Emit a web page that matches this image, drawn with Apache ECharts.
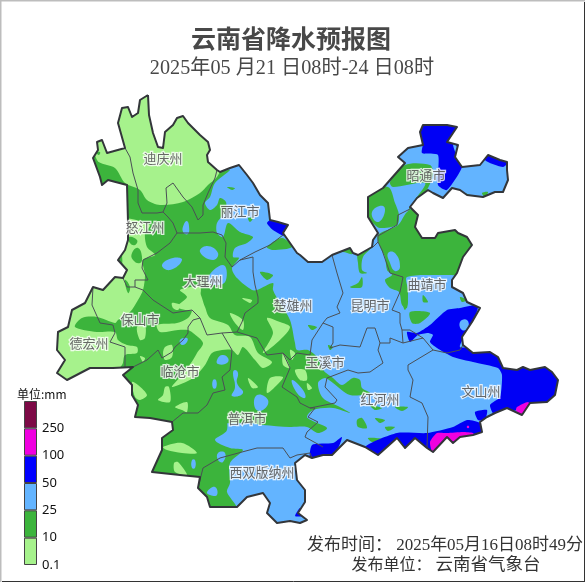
<!DOCTYPE html>
<html><head><meta charset="utf-8">
<style>html,body{margin:0;padding:0;background:#fff}#c{width:585px;height:582px}</style>
<script src="https://cdn.jsdelivr.net/npm/echarts@6/dist/echarts.min.js"></script>
</head><body><div id="c"></div>
<script>
// Map units are the reference picture's own x/y read-off; fed through hidden value axes.
const outerBorder=[[148,95],[149,115],[153,133],[158,147],[163,148],[165,132],[173,125],[177,118],[183,116],[188,123],[200,135],[208,142],[210,150],[207,155],[208,162],[217,170],[220,172],[230,168],[239,165],[247,175],[253,183],[260,195],[268,203],[270,220],[278,222],[288,225],[283,233],[290,243],[297,253],[300,255],[308,262],[322,262],[332,255],[350,248],[353,253],[358,255],[372,247],[373,240],[378,233],[368,217],[368,197],[383,188],[390,180],[405,163],[398,157],[408,148],[423,145],[420,132],[423,125],[447,125],[457,127],[447,142],[458,145],[455,157],[462,167],[480,165],[488,155],[500,160],[507,162],[507,170],[508,180],[503,192],[495,192],[483,197],[467,195],[460,190],[452,188],[443,198],[433,193],[428,190],[417,198],[410,207],[418,215],[415,227],[422,238],[435,238],[438,233],[455,230],[458,233],[467,237],[472,245],[463,257],[457,273],[452,280],[452,287],[463,293],[467,302],[480,308],[472,322],[462,337],[463,345],[473,353],[490,352],[498,357],[503,368],[517,370],[523,367],[530,370],[545,367],[552,372],[558,380],[555,395],[547,402],[530,403],[522,415],[507,408],[495,413],[487,417],[480,422],[482,432],[473,435],[460,437],[453,443],[447,437],[433,452],[427,448],[415,438],[405,448],[397,438],[378,455],[365,447],[347,440],[332,455],[323,455],[312,458],[305,455],[295,463],[297,480],[305,490],[305,502],[298,513],[307,520],[300,523],[290,521],[277,523],[267,513],[270,503],[263,493],[247,497],[237,507],[210,507],[207,497],[198,488],[200,477],[180,475],[152,472],[162,450],[162,438],[173,430],[172,422],[150,418],[135,417],[138,405],[132,395],[132,385],[123,375],[133,367],[113,368],[90,368],[67,380],[57,373],[65,360],[57,350],[58,332],[68,327],[72,310],[85,303],[93,287],[103,290],[115,277],[123,278],[127,270],[118,260],[125,250],[128,240],[128,222],[127,185],[108,180],[102,185],[100,177],[93,158],[98,150],[97,142],[102,140],[107,153],[125,148],[118,123],[122,108],[128,107],[132,117],[138,113],[140,100]];

const greenRings=[
 [[90,100],[225,100],[225,170],[230,170],[215,183],[210,197],[205,203],[210,210],[217,205],[220,198],[226,202],[225,212],[217,223],[217,233],[223,237],[228,223],[240,232],[253,237],[247,243],[235,248],[233,257],[239,258],[232,268],[237,278],[252,290],[257,290],[273,283],[273,290],[280,303],[290,320],[295,343],[297,350],[308,350],[317,357],[323,370],[333,378],[342,385],[353,378],[360,380],[362,388],[370,393],[350,395],[333,383],[325,378],[318,383],[323,398],[340,407],[350,413],[333,408],[313,410],[307,417],[315,422],[327,428],[318,433],[307,427],[290,427],[263,425],[250,423],[227,423],[217,418],[213,412],[223,408],[227,430],[215,440],[230,448],[243,450],[230,463],[230,483],[227,492],[237,508],[237,530],[100,530],[30,400],[40,300]],
 [[390,182],[405,165],[430,165],[433,173],[428,188],[418,200],[410,207],[408,212],[415,200],[425,183],[393,187]],
 [[360,193],[388,187],[395,203],[399,215],[397,225],[380,228],[375,225],[360,210]],
 [[378,235],[398,225],[407,212],[420,205],[430,230],[480,230],[480,270],[457,275],[447,275],[407,277],[408,290],[407,308],[402,305],[399,292],[390,288],[385,280],[392,275],[387,270],[385,257],[380,247]],
 [[410,312],[430,313],[420,323],[412,323]],[[423,295],[428,302],[423,302]],
 [[358,253],[372,247],[363,257],[362,270],[367,273],[360,273],[358,263]],
 [[332,254],[352,246],[352,254],[343,252]],
 [[350,287],[358,283],[362,277],[362,287],[353,288]],
 [[308,325],[317,327],[312,330]],[[328,345],[333,347],[330,350]],
 [[370,405],[382,408],[375,410]],[[395,407],[408,407],[402,411]],
 [[357,420],[362,418],[367,428],[358,427]],[[375,418],[385,420],[380,423]],
 [[385,427],[395,427],[388,431]],[[368,438],[382,439],[372,442]],
 [[402,300],[408,300],[405,310]],
 [[460,297],[467,300],[462,302]],[[463,193],[470,195],[467,197]],[[482,193],[488,192],[485,197]],
 [[227,187],[235,188],[232,190]],[[248,218],[253,218],[250,222]],
 [[260,272],[273,275],[267,280]],[[267,247],[282,238],[292,247],[273,250]]
];
const lightGreenRings=[
 [[80,90],[97,160],[115,168],[125,183],[140,190],[147,200],[160,205],[183,202],[200,193],[208,185],[217,177],[222,165],[225,90]],
 [[120,220],[150,225],[145,233],[147,247],[155,255],[143,260],[145,275],[143,290],[138,300],[130,312],[118,320],[115,323],[97,317],[82,318],[75,327],[97,332],[115,332],[118,340],[127,345],[137,347],[137,353],[125,355],[122,365],[100,385],[40,385],[40,310],[70,280],[120,270]],
 [[187,290],[198,290],[205,307],[210,318],[228,325],[235,335],[250,337],[258,353],[272,362],[263,368],[255,360],[243,347],[238,355],[232,350],[222,350],[212,353],[205,365],[193,378],[172,387],[182,375],[193,360],[197,353],[203,343],[193,333],[188,330],[178,330],[160,332],[157,325],[177,323],[188,318],[192,310],[188,300]],
 [[165,347],[172,345],[172,357],[165,360],[163,353]],
 [[132,382],[138,385],[147,395],[140,400],[135,397]],
 [[165,387],[169,387],[170,402],[158,400],[163,395]],
 [[175,407],[187,402],[187,412],[182,410]],
 [[248,378],[258,387],[252,388]],
 [[270,378],[283,377],[277,385],[267,393]],
 [[163,447],[182,443],[197,453],[182,453],[167,450]],
 [[174,463],[178,462],[187,475],[175,472]],
 [[267,318],[280,322],[290,327],[280,340],[263,353],[273,333]],
 [[283,353],[290,368],[283,365]],
 [[295,370],[305,370],[307,380],[300,380]],[[307,383],[312,388],[308,390]],[[290,350],[295,353],[292,360]],
 [[172,303],[180,305],[178,310],[173,308]],
 [[230,313],[243,320],[243,330],[235,323]],
 [[242,298],[252,300],[250,303]],
 [[137,327],[145,325],[145,338],[140,340]],
 [[180,290],[200,287],[200,297],[197,310],[177,307],[187,297]],
 [[140,356],[145,358],[143,362]]
];
const greenOnLightRings=[
 [[129,237],[137,240],[135,245],[130,243]],
 [[132,253],[138,248],[142,257],[140,263],[133,260]],
 [[125,280],[130,287],[128,293]],
 [[96,152],[100,152],[99,155]]
];
const lightBlueRings=[
 [[183,232],[184,224],[187,221],[189,226],[188,234]],
 [[162,265],[173,258],[182,260],[170,270]],
 [[200,252],[207,246],[218,253],[213,260]],
 [[207,280],[223,265],[226,280],[217,285]],
 [[217,360],[222,355],[228,358],[227,363],[218,364]],
 [[235,370],[238,373],[237,383],[243,393],[232,396],[235,387],[233,373]],
 [[213,380],[216,380],[216,388],[213,388]],
 [[257,395],[268,400],[263,410],[255,408]],
 [[180,340],[187,338],[187,342],[182,345]],
 [[292,380],[303,390],[305,398],[297,393]],
 [[192,460],[195,460],[195,468],[192,468]],
 [[218,453],[225,453],[223,462],[218,460]],
 [[207,492],[215,487],[217,495],[210,495]],
 [[372,212],[383,206],[384,215],[377,222]],
 [[388,253],[395,253],[400,267],[395,271],[390,263]]
];
const blueRings=[
 [[415,132],[420,120],[460,120],[452,143],[458,145],[457,155],[462,167],[447,190],[438,185],[438,155],[422,153],[423,142]],
 [[485,160],[492,150],[510,160],[503,167]],
 [[267,223],[273,218],[278,222],[290,224],[285,236],[273,230]],
 [[407,332],[417,333],[430,325],[447,310],[460,308],[478,305],[473,322],[460,347],[490,345],[503,360],[565,360],[565,405],[530,408],[508,412],[495,416],[490,405],[500,397],[502,375],[498,368],[473,362],[453,357],[437,348],[430,342],[433,335],[428,333],[418,335],[410,342]],
 [[475,412],[487,410],[485,420],[478,420]],
 [[365,447],[397,433],[427,433],[453,427],[467,420],[480,423],[485,435],[470,445],[433,460],[400,455],[378,462]],
 [[312,445],[333,443],[342,437],[337,450],[323,462],[310,462]],
 [[300,508],[302,516],[295,516]]
];
const lightBlueOnBlueRings=[
 [[453,143],[457,147],[456,153]],
 [[460,322],[467,320],[468,328],[462,330]]
];
const magentaRings=[
 [[517,407],[528,402],[531,407],[523,415],[520,417],[516,410]],
 [[430,442],[437,433],[447,433],[463,432],[473,433],[475,437],[457,443],[447,440],[433,453]],
 [[467,426],[469,426],[469,428],[467,428]]
];
const innerBorders=[
 [[125,148],[130,157],[133,173],[138,190],[138,203],[142,213],[157,213],[163,212],[168,217],[173,223],[177,233]],
 [[163,212],[167,203],[166,188],[173,183],[183,197],[192,207],[198,220],[203,215],[203,205],[208,193],[215,178],[217,170]],
 [[177,233],[188,233],[200,233],[213,232],[222,235],[226,243],[225,257],[232,267],[240,260],[253,257],[253,272],[255,285],[258,297],[258,303],[245,313],[242,322],[237,332]],
 [[240,260],[255,252],[270,245],[283,235]],
 [[177,233],[170,243],[157,253],[143,260],[142,268],[148,280],[135,280],[135,287],[143,290],[153,300],[173,313],[192,310],[200,318],[207,335],[222,333],[237,332]],
 [[200,318],[193,320],[188,327],[188,333],[183,340],[175,347],[172,352],[162,358],[158,350],[147,360],[133,367]],
 [[93,287],[92,305],[100,323],[113,325],[115,333],[110,342],[125,347],[125,367]],
 [[123,278],[127,287],[135,287]],
 [[222,333],[232,350],[230,370],[222,377],[225,390],[213,393],[207,405],[198,413],[183,413],[172,422]],
 [[237,332],[257,338],[267,355],[283,353],[290,368],[282,387],[297,397],[300,403],[310,408],[335,403],[337,400],[325,387],[327,378],[348,370],[358,373],[370,372],[383,363],[378,350],[380,343],[375,328],[367,328],[360,347],[340,345],[330,348],[333,343],[333,327],[323,323],[312,340],[310,355],[297,353],[290,360],[283,353]],
 [[332,255],[337,273],[343,293],[337,307],[340,313],[327,318],[323,323]],
 [[310,408],[315,408],[308,417],[318,422],[307,432],[305,437],[323,447]],
 [[198,488],[203,468],[220,458],[242,452],[257,448],[283,448],[290,458],[297,455],[310,453],[312,458]],
 [[380,343],[390,343],[390,338],[403,343],[423,338],[433,350]],
 [[373,247],[378,242],[382,250],[390,273],[403,277],[400,292],[392,310],[400,313],[400,323],[402,330],[403,343]],
 [[402,330],[410,330],[423,338]],
 [[433,350],[447,353],[460,350],[463,345]],
 [[433,350],[408,365],[408,370],[413,380],[410,397],[422,403],[428,417],[427,448]],
 [[378,233],[378,242]],[[378,236],[397,225],[398,215],[410,209]]
];
const regionNames=['迪庆州','怒江州','丽江市','大理州','楚雄州','昆明市','曲靖市','昭通市','保山市','德宏州','临沧市','普洱市','西双版纳州','玉溪市','红河州','文山州'];
const regionX=[163,145,240,203,293,370,427,426,140,89,180,247,262,325,380,481];
const regionY=[158,227,211,281,305,305,284,175,319,343,371,418,472,362,399,391];

const scaleLabels=['0.1','10','25','50','100','250',''];
const scaleColors=['#a6f28c','#3cb43c','#63b4ff','#0000ff','#f000e0','#7d0a46'];
const scaleSteps=[1,1,1,1,1,1];
const colGreen='#3cb43c',colLight='#a6f28c',colSky='#63b4ff',colBlue='#0000f5',colMagenta='#f000e0';

function fillSeries(name,rings,color,z,smooth){
  return {type:'custom',name,coordinateSystem:'cartesian2d',xAxisIndex:0,yAxisIndex:0,z,silent:true,
    data:rings.map((r,i)=>[r[0][0],r[0][1],i]),
    renderItem:(p,api)=>{
      const pts=rings[p.dataIndex].map(q=>api.coord(q));
      const clip=outerBorder.map(q=>api.coord(q));
      return {type:'polygon',shape:{points:pts,smooth:smooth||0},style:{fill:color,stroke:null},
        clipPath:{type:'polygon',shape:{points:clip}}};
    }};
}
function lineSeries(name,lines,color,w,z){
  return {type:'custom',name,coordinateSystem:'cartesian2d',xAxisIndex:0,yAxisIndex:0,z,silent:true,
    data:lines.map((r,i)=>[r[0][0],r[0][1],i]),
    renderItem:(p,api)=>({type:'polyline',shape:{points:lines[p.dataIndex].map(q=>api.coord(q))},
      style:{stroke:color,lineWidth:w,fill:null,lineJoin:'round'}})};
}
const serifCJK='"Liberation Serif","Noto Sans CJK SC",serif';
const chart=echarts.init(document.getElementById('c'),null,{renderer:'canvas'});
chart.setOption({
  animation:false,backgroundColor:'#fff',
  graphic:[
    {type:'line',shape:{x1:0,y1:0.5,x2:585,y2:0.5},style:{stroke:'#bdbdbd',lineWidth:2},silent:true},
    {type:'line',shape:{x1:0.5,y1:0,x2:0.5,y2:582},style:{stroke:'#bdbdbd',lineWidth:2},silent:true},
    {type:'line',shape:{x1:584.5,y1:2,x2:584.5,y2:582},style:{stroke:'#333',lineWidth:1},silent:true},
    {type:'line',shape:{x1:2,y1:581.5,x2:585,y2:581.5},style:{stroke:'#333',lineWidth:1},silent:true}
  ],
  title:[
    {text:'云南省降水预报图',left:286,top:21,textAlign:'center',textStyle:{fontFamily:'"Noto Sans CJK SC"',fontSize:25,fontWeight:'bold',color:'#484848'}},
    {text:'2025年05 月21 日08时-24 日08时',left:287,top:54,textAlign:'center',textStyle:{fontFamily:serifCJK,fontSize:20.2,fontWeight:'normal',color:'#484848'}},
    {text:'发布时间： 2025年05月16日08时49分',left:440,top:532,textAlign:'center',textStyle:{fontFamily:serifCJK,fontSize:17,fontWeight:'normal',color:'#333'}},
    {text:'{a|发布单位： }{b|云南省气象台}',left:441,top:552,textAlign:'center',textStyle:{fontWeight:'normal',rich:{a:{fontFamily:serifCJK,fontSize:16,fontWeight:'normal',color:'#333'},b:{fontFamily:serifCJK,fontSize:17.5,fontWeight:'normal',color:'#333'}}}},
    {text:'单位:mm',left:12,top:383,textStyle:{fontFamily:'"Noto Sans CJK SC"',fontSize:12,fontWeight:'normal',color:'#111'}}
  ],
  grid:[{left:0,top:0,width:585,height:582},{left:24,top:401,width:13,height:164}],
  xAxis:[{type:'value',min:0,max:585,show:false},{type:'category',gridIndex:1,data:['r'],show:false}],
  yAxis:[{type:'value',min:0,max:582,inverse:true,show:false},
    {type:'value',gridIndex:1,min:0,max:6,interval:1,axisLine:{show:false},axisTick:{show:false},splitLine:{show:false},
     axisLabel:{margin:5,fontSize:13,color:'#111',fontFamily:'"Noto Sans"',padding:[0,0,3,0],formatter:v=>scaleLabels[v]},position:'right'}],
  series:[
    fillSeries('base',[outerBorder],colSky,1),
    fillSeries('green',greenRings,colGreen,2,0.3),
    fillSeries('lightGreen',lightGreenRings,colLight,3,0.3),
    fillSeries('greenOnLight',greenOnLightRings,colGreen,4,0.5),
    fillSeries('lightBlue',lightBlueRings,colSky,5,0.5),
    fillSeries('blue',blueRings,colBlue,6,0.2),
    fillSeries('lightBlueOnBlue',lightBlueOnBlueRings,colSky,7,0.5),
    fillSeries('magenta',magentaRings,colMagenta,8,0.2),
    lineSeries('inner',innerBorders,'#4a4f55',1,9),
    lineSeries('outer',[outerBorder.concat([outerBorder[0]])],'#33363a',2,10),
    {type:'scatter',xAxisIndex:0,yAxisIndex:0,z:11,symbolSize:0,silent:true,
      data:regionNames.map((n,i)=>({name:n,value:[regionX[i],regionY[i]]})),
      label:{show:true,position:'inside',formatter:'{b}',fontFamily:'"Noto Sans CJK SC"',fontSize:13,color:'#444',textBorderColor:'#fff',textBorderWidth:2.5}},
    ...scaleSteps.map((v,i)=>({type:'bar',xAxisIndex:1,yAxisIndex:1,stack:'scale',barWidth:13,data:[v],silent:true,z:5,
      itemStyle:{color:scaleColors[i],borderColor:'#444',borderWidth:1}}))
  ]
});
</script></body></html>
